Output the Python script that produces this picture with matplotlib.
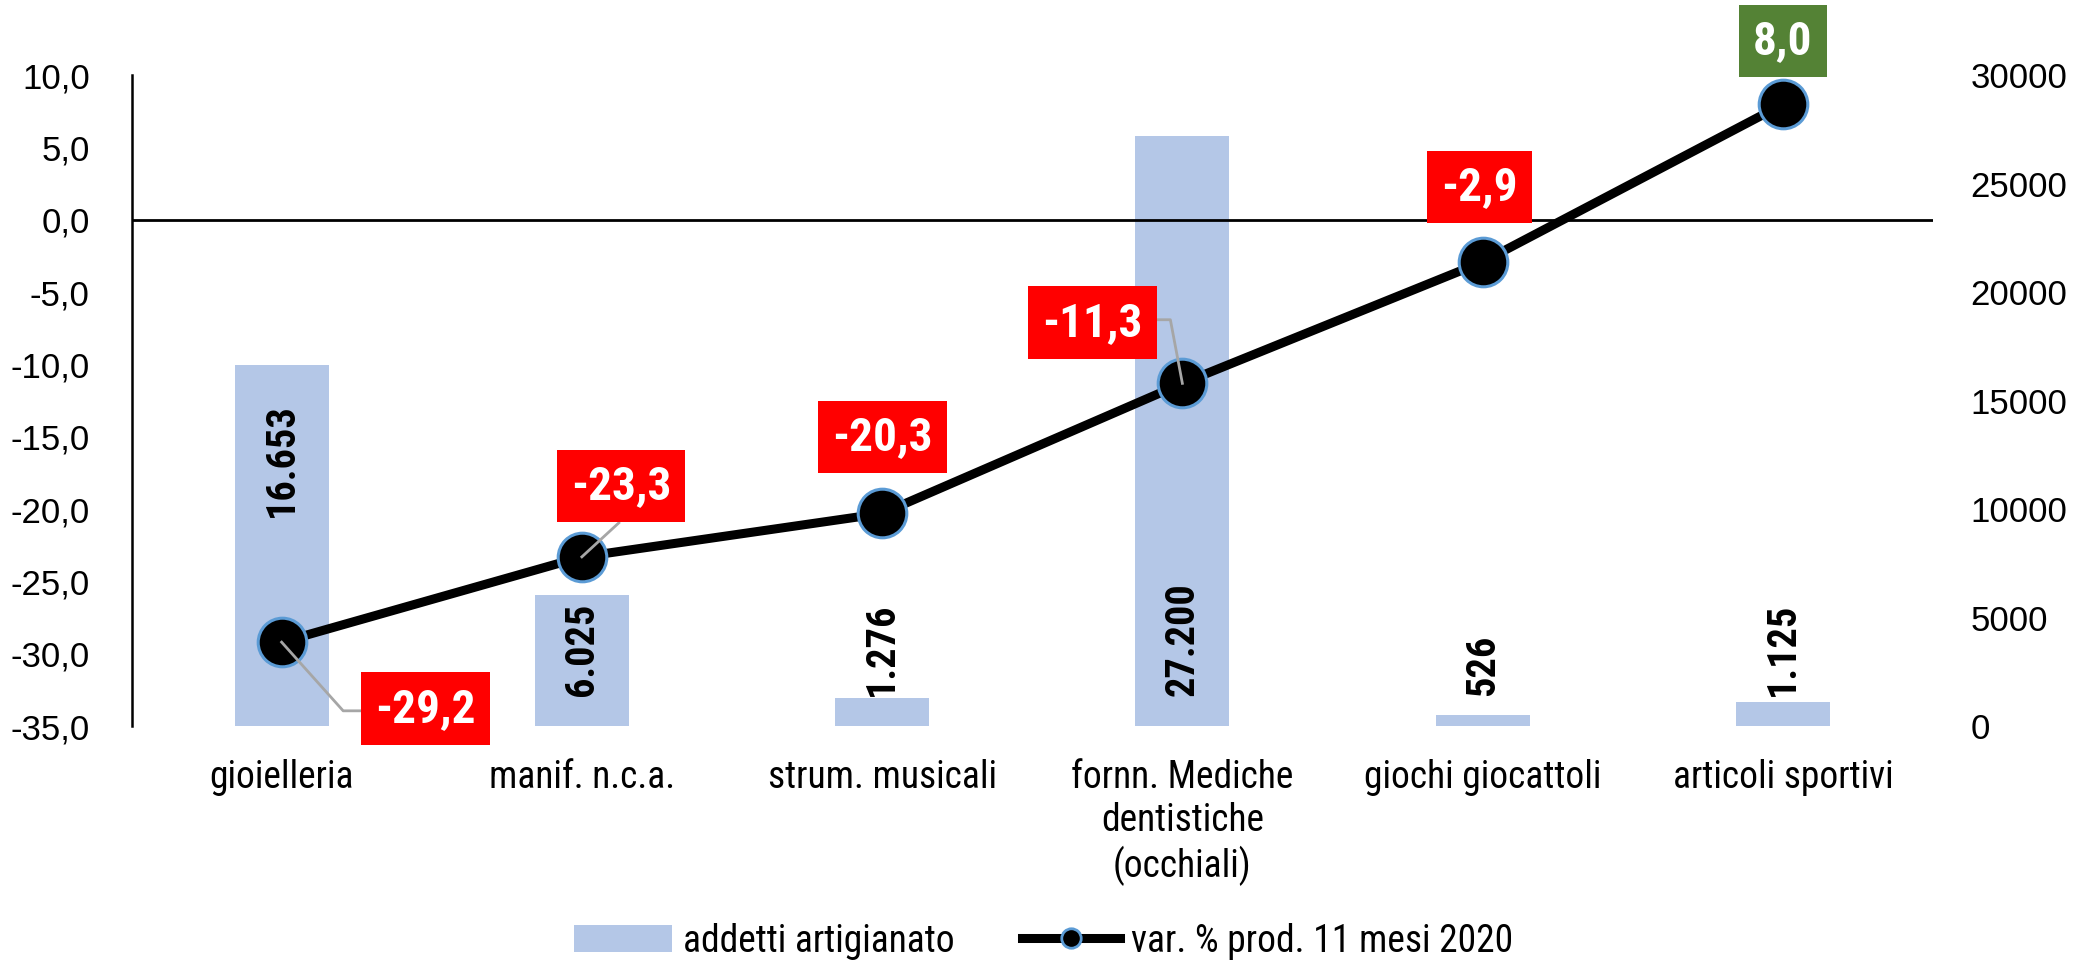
import numpy as np
import matplotlib
matplotlib.use("Agg")
import matplotlib.pyplot as plt
from matplotlib.lines import Line2D
from matplotlib.patches import Patch

# data
categories = ["gioielleria", "manif. n.c.a.", "strum. musicali",
              "fornn. Mediche\ndentistiche\n(occhiali)", "giochi giocattoli",
              "articoli sportivi"]
addetti = [16653, 6025, 1276, 27200, 526, 1125]
var_prod = [-29.2, -23.3, -20.3, -11.3, -2.9, 8.0]

# label placement (offsets from the point, in left axis units)
lab_dx = [0.48, 0.13, 0.0, -0.30, -0.01, 0.0]
lab_y = [-33.8, -18.4, -15.0, -7.1, 2.3, 12.4]
bar_lab_y = [9640, 1380, 1380, 1380, 1380, 1380]

NARROW = ["Roboto Condensed", "Liberation Sans", "DejaVu Sans"]
REG = ["Liberation Sans", "DejaVu Sans"]
BAR_COL = "#B4C7E7"
RED = "#FF0000"
GREEN = "#548235"
EDGE = "#5B9BD5"
GREY = "#A6A6A6"

fig = plt.figure(figsize=(20.87, 9.68), dpi=100)
W, H = 2087, 968
ax = fig.add_axes([131.5 / W, 1 - 726 / H, (1933 - 131.5) / W, (726 - 75.4) / H])
ax2 = ax.twinx()
ax.set_zorder(ax2.get_zorder() + 1)
ax.patch.set_visible(False)

x = np.arange(len(categories))

# bars on the right axis
ax2.bar(x, addetti, width=0.313, color=BAR_COL, zorder=1)
ax2.set_ylim(0, 30000)
rticks = np.arange(0, 30001, 5000)
ax2.set_yticks(rticks)
ax2.set_yticklabels([str(int(t)) for t in rticks], family=REG, fontsize=25)
ax2.tick_params(axis="y", length=0, pad=27)
for s in ax2.spines.values():
    s.set_visible(False)
for xi, v, yl in zip(x, addetti, bar_lab_y):
    ax2.text(xi, yl, f"{v:,}".replace(",", "."), rotation=90, ha="center", va="bottom",
             fontsize=29, fontweight="bold", family=NARROW, color="black")

# line on the left axis
ax.axhline(0, color="black", lw=2, zorder=2)
ax.plot(x, var_prod, color="black", lw=6.5, marker="o", ms=35, mfc="black",
        mec=EDGE, mew=2.2, zorder=3, solid_capstyle="round")
ax.set_xlim(-0.5, 5.5)
ax.set_ylim(-35, 10)
ticks = np.arange(-35, 10.1, 5)
ax.set_yticks(ticks)
ax.set_yticklabels([f"{t:.1f}".replace(".", ",") for t in ticks], family=REG, fontsize=25)
ax.tick_params(axis="y", length=0, pad=30)
ax.set_xticks(x)
ax.set_xticklabels(categories, family=NARROW, fontsize=27, linespacing=1.2)
ax.tick_params(axis="x", length=0, pad=24)
for k in ["top", "right", "bottom"]:
    ax.spines[k].set_visible(False)
ax.spines["left"].set_linewidth(1.8)

# leader lines
ax.plot([0, 0.205, 0.28], [-29.2, -33.95, -33.95], color=GREY, lw=2, zorder=4)
ax.plot([1, 1.123], [-23.3, -20.95], color=GREY, lw=2, zorder=4)
ax.plot([3, 2.96, 2.90], [-11.3, -6.9, -6.9], color=GREY, lw=2, zorder=4)

# value boxes
for xi, v, dx, ly in zip(x, var_prod, lab_dx, lab_y):
    fc = GREEN if v > 0 else RED
    ax.text(xi + dx, ly, f"{v:.1f}".replace(".", ","), ha="center", va="center",
            fontsize=34, fontweight="bold", family=NARROW, color="white", zorder=5,
            bbox=dict(boxstyle="square,pad=0.3", fc=fc, ec="none"))

# legend
handles = [Patch(facecolor=BAR_COL, edgecolor="none", label="addetti artigianato"),
           Line2D([0], [0], color="black", lw=6.5, marker="o", ms=14, mfc="black",
                  mec=EDGE, mew=2, label="var. % prod. 11 mesi 2020")]
fig.legend(handles=handles, loc="center", bbox_to_anchor=(0.5, 1 - 941 / H), ncol=2,
           frameon=False, prop={"family": NARROW, "size": 27}, handlelength=2.6,
           columnspacing=1.8, handletextpad=0.3)

fig.savefig("out.png", dpi=100)
